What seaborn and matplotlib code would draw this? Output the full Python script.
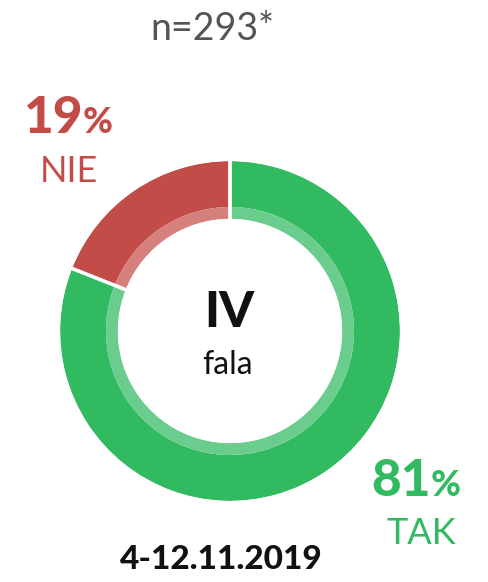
import matplotlib
matplotlib.use("Agg")
import matplotlib.pyplot as plt
import seaborn as sns

sns.set_theme(style="white")
plt.rcParams['font.family'] = ['Lato', 'DejaVu Sans']

labels = ["TAK", "NIE"]
values = [81, 19]
pct_labels = ["81", "19"]
colors_outer = ["#31BA60", "#C14C48"]
colors_inner = ["#6ACD8E", "#D6807D"]
sample_text = "n=293*"
center_title = "IV"
center_sub = "fala"
date_text = "4-12.11.2019"

W, H = 488, 582
fig = plt.figure(figsize=(W / 100, H / 100), dpi=100)
ax = fig.add_axes([0, 0, 1, 1])

def Y(py):
    return H - py

cx, cy = 230, Y(331)
R_out, R_mid, R_in = 170, 124, 112

ax.pie(values, colors=colors_outer, startangle=90, counterclock=False,
       radius=R_out, center=(cx, cy), frame=True,
       wedgeprops=dict(width=R_out - R_mid, linewidth=0))
ax.pie(values, colors=colors_inner, startangle=90, counterclock=False,
       radius=R_mid, center=(cx, cy), frame=True,
       wedgeprops=dict(width=R_mid - R_in, linewidth=0))
# white separators between slices
ax.pie(values, colors=["none", "none"], startangle=90, counterclock=False,
       radius=R_out + 1.5, center=(cx, cy), frame=True,
       wedgeprops=dict(width=R_out - R_in + 3, edgecolor="white",
                       linewidth=2.4, facecolor="none"))
ax.set_xlim(0, W)
ax.set_ylim(0, H)
ax.set_aspect('equal')
ax.axis('off')

ax.text(212, Y(40), sample_text, ha='center', va='baseline', fontsize=27,
        fontweight='normal', color='#555555')

# 19% NIE
ax.text(83, Y(133), pct_labels[1], ha='right', va='baseline', fontsize=37,
        fontweight='black', color=colors_outer[1])
ax.text(83, Y(133), "%", ha='left', va='baseline', fontsize=26,
        fontweight='black', color=colors_outer[1])
ax.text(69, Y(182), labels[1], ha='center', va='baseline', fontsize=26,
        fontweight='normal', color=colors_outer[1])

# 81% TAK
ax.text(431, Y(496), pct_labels[0], ha='right', va='baseline', fontsize=37,
        fontweight='black', color=colors_outer[0])
ax.text(431, Y(496), "%", ha='left', va='baseline', fontsize=26,
        fontweight='black', color=colors_outer[0])
ax.text(421, Y(544), labels[0], ha='center', va='baseline', fontsize=26,
        fontweight='normal', color=colors_outer[0])

ax.text(229, Y(327), center_title, ha='center', va='baseline', fontsize=36,
        fontweight='black', color='#111111')
ax.text(228, Y(374), center_sub, ha='center', va='baseline', fontsize=23,
        fontweight='normal', color='#111111')

ax.text(221, Y(569), date_text, ha='center', va='baseline', fontsize=24,
        fontweight='black', color='#111111')

fig.savefig("out.png", dpi=100)
